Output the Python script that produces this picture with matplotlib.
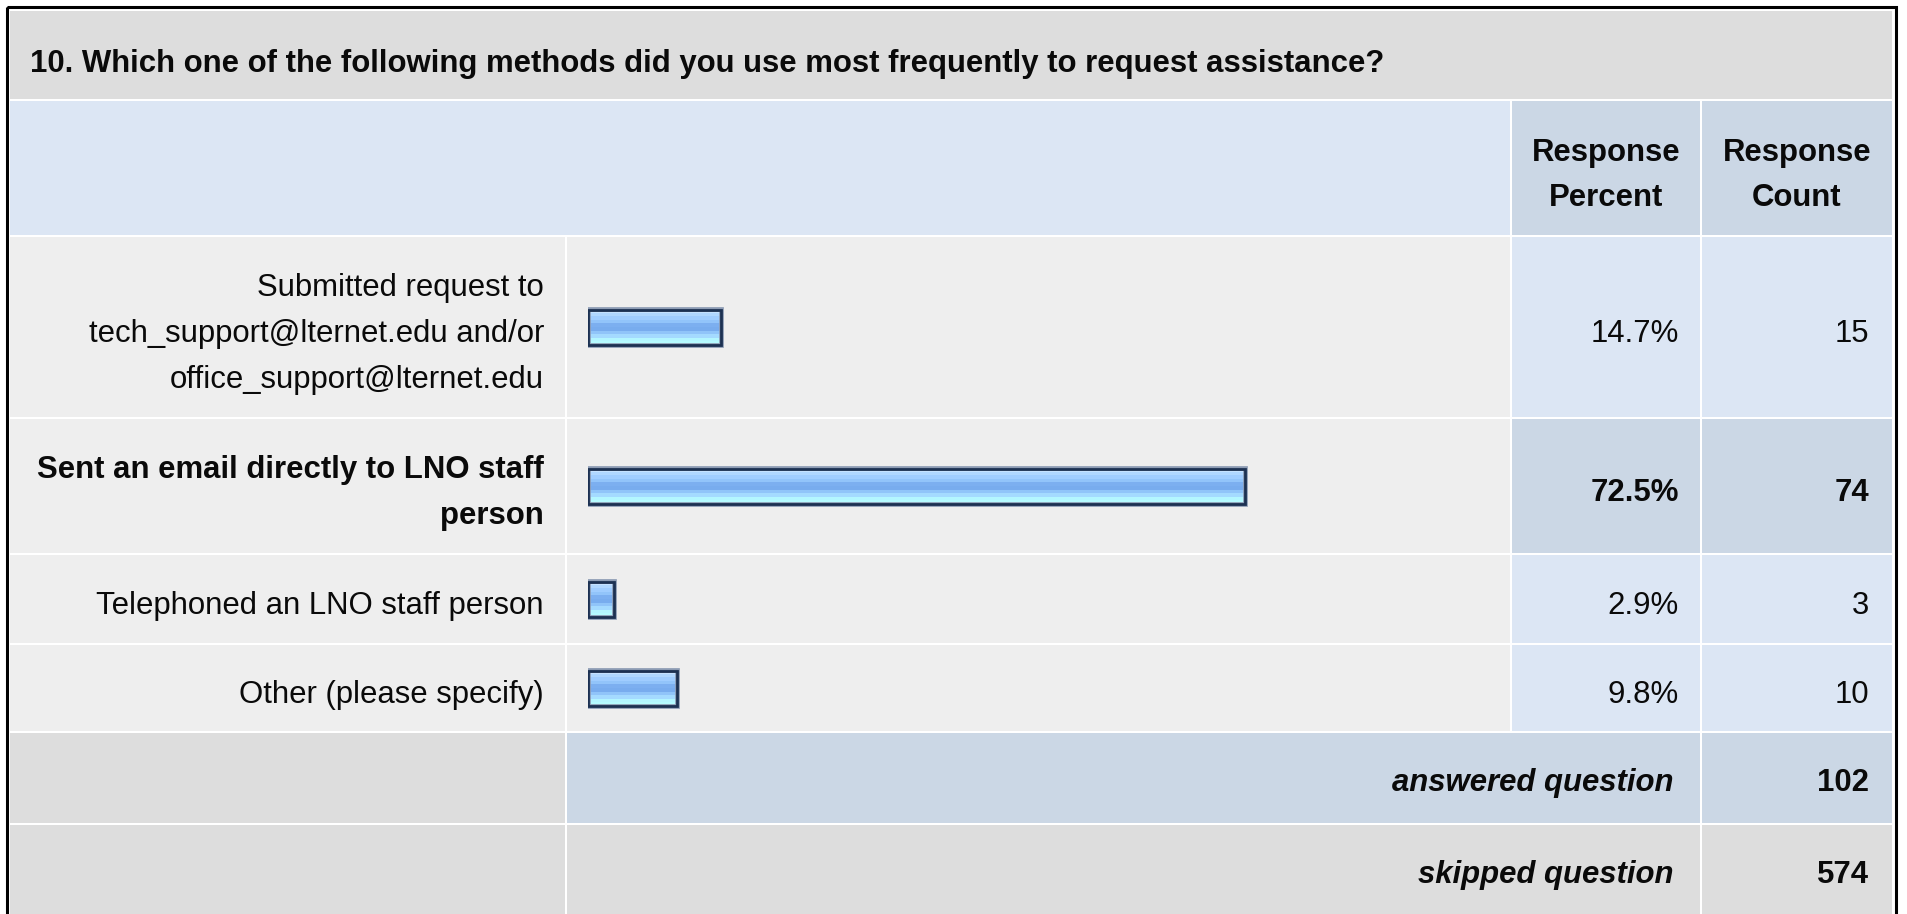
import matplotlib
matplotlib.use("Agg")
import matplotlib.pyplot as plt
from matplotlib.patches import Rectangle
import numpy as np

# ---------------- data ----------------
question = "10. Which one of the following methods did you use most frequently to request assistance?"
header_labels = ["Response\nPercent", "Response\nCount"]
answer_labels = [
    "Submitted request to\ntech_support@lternet.edu and/or\noffice_support@lternet.edu",
    "Sent an email directly to LNO staff\nperson",
    "Telephoned an LNO staff person",
    "Other (please specify)",
]
response_percent = [14.7, 72.5, 2.9, 9.8]
response_count = [15, 74, 3, 10]
summary_labels = ["answered question", "skipped question"]
summary_values = [102, 574]

# ---------------- layout (pixels) ----------------
W, H = 1907, 914
FONT = "Liberation Sans"
FS = 22.4
CAP = 0.716 * FS * 100 / 72  # cap height in px

C_TITLE = "#DDDDDD"
C_HEAD = "#DCE6F4"
C_HEAD2 = "#CBD7E5"
C_BODY = "#EEEEEE"
C_SUM = "#DDDDDD"

cols = [(10, 565), (567, 1510), (1512, 1700), (1702, 1892)]
row_title = (11, 99)
row_head = (101, 235)
rows_body = [(237, 417), (419, 553), (555, 643), (645, 731)]
rows_sum = [(733, 823), (825, 914)]

fig = plt.figure(figsize=(W / 100, H / 100), dpi=100)
fig.patch.set_facecolor("white")
ax = fig.add_axes([0, 0, 1, 1])
ax.set_xlim(0, W)
ax.set_ylim(H, 0)
ax.axis("off")


def cell(x0, x1, y0, y1, color):
    ax.add_patch(Rectangle((x0, y0), x1 - x0, y1 - y0, facecolor=color,
                           edgecolor="none", zorder=1))


def txt(x, y, s, ha="right", bold=False, italic=False, spacing=46.3):
    """y is the visual (cap-height) centre of the text block."""
    lines = s.split("\n")
    n = len(lines)
    for i, line in enumerate(lines):
        yy = y + (i - (n - 1) / 2) * spacing + CAP / 2
        ax.text(x, yy, line, ha=ha, va="baseline", fontsize=FS,
                family=FONT, fontweight="bold" if bold else "normal",
                fontstyle="italic" if italic else "normal",
                color="#0A0A0A", zorder=5)


# outer border
ax.add_patch(Rectangle((7, 7), 1888.5, H + 10, facecolor="none",
                       edgecolor="black", linewidth=2.2, zorder=6))

# title
cell(cols[0][0], cols[3][1], *row_title, C_TITLE)
txt(30, 61, question, ha="left", bold=True)

# header
cell(cols[0][0], cols[1][1], *row_head, C_HEAD)
cell(*cols[2], *row_head, C_HEAD2)
cell(*cols[3], *row_head, C_HEAD2)
hy = (row_head[0] + row_head[1]) / 2 + 4
txt((cols[2][0] + cols[2][1]) / 2, hy, header_labels[0], ha="center", bold=True, spacing=45)
txt((cols[3][0] + cols[3][1]) / 2, hy, header_labels[1], ha="center", bold=True, spacing=45)

# body rows
imax = int(np.argmax(response_percent))
centers = []
for i, (y0, y1) in enumerate(rows_body):
    hi = (i == imax)
    cell(*cols[0], y0, y1, C_BODY)
    cell(*cols[1], y0, y1, C_BODY)
    cell(*cols[2], y0, y1, C_HEAD2 if hi else C_HEAD)
    cell(*cols[3], y0, y1, C_HEAD2 if hi else C_HEAD)
    yc = (y0 + y1) / 2
    centers.append(yc)
    ty = yc + 4
    txt(544, ty, answer_labels[i], bold=hi)
    txt(1679, ty, f"{response_percent[i]:.1f}%", bold=hi)
    txt(1869, ty, f"{response_count[i]}", bold=hi)

# summary rows
for j, (y0, y1) in enumerate(rows_sum):
    col_mid = C_HEAD2 if j == 0 else C_SUM
    cell(*cols[0], y0, y1, C_SUM)
    cell(cols[1][0], cols[2][1], y0, y1, col_mid)
    cell(*cols[3], y0, y1, col_mid)
    ty = (y0 + y1) / 2 + 2
    txt(1674, ty, summary_labels[j], bold=True, italic=True)
    txt(1869, ty, f"{summary_values[j]}", bold=True)

# ---------------- bars ----------------
bar_h = 36
axb = fig.add_axes([588 / W, 1 - rows_body[-1][1] / H, 906 / W,
                    (rows_body[-1][1] - rows_body[0][0]) / H])
axb.set_xlim(0, 100)
axb.set_ylim(rows_body[-1][1], rows_body[0][0])
axb.axis("off")
axb.patch.set_alpha(0)

stops = ["#C6E2FF", "#B0D7FF", "#A0CDFF", "#92C4FA", "#7CAFF0", "#78ACEE",
         "#90C4F9", "#A4DAFF", "#B3F6FF", "#B5FBFF"]
grad = np.array([matplotlib.colors.to_rgb(c) for c in stops])[:, None, :]

for p, yc in zip(response_percent, centers):
    axb.imshow(grad, extent=[0, p, yc + bar_h / 2, yc - bar_h / 2],
               aspect="auto", interpolation="nearest", zorder=2)
axb.barh(centers, response_percent, height=bar_h, left=0, facecolor="none",
         edgecolor="#8C9BB3", linewidth=3.4, zorder=3)
axb.barh(centers, response_percent, height=bar_h - 1, left=0, facecolor="none",
         edgecolor="#1C3152", linewidth=2.0, zorder=4)
axb.set_xlim(0, 100)
axb.set_ylim(rows_body[-1][1], rows_body[0][0])

fig.savefig("out.png", dpi=100, facecolor="white")
